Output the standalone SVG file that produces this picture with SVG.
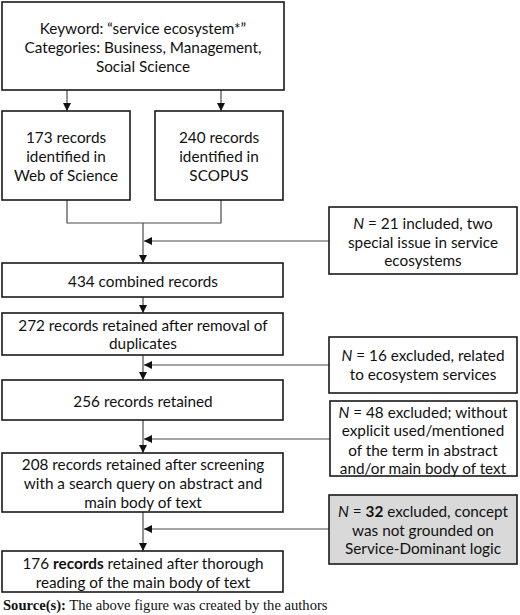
<svg xmlns="http://www.w3.org/2000/svg" width="520" height="615" viewBox="0 0 520 615">
<defs>
<style>
.box{fill:#ffffff;stroke:#1a1a1a;stroke-width:1.6}
.grey{fill:#d9d9d9}
.t{font-family:Lato,"Open Sans","Liberation Sans",sans-serif;font-size:15.3px;fill:#111;text-anchor:middle}
.c{fill:none;stroke:#4a4a4a;stroke-width:1.2}
.src{font-family:"Liberation Serif","Times New Roman",serif;font-size:14.6px;fill:#111}
</style>
<marker id="ah" markerWidth="9" markerHeight="9" refX="8" refY="4" orient="auto" markerUnits="userSpaceOnUse">
<path d="M0,0 L8,4 L0,8 Z" fill="#111"/>
</marker>
</defs>
<rect width="520" height="615" fill="#ffffff"/>

<g id="connectors">
<line class="c" x1="67" y1="90" x2="67" y2="111" marker-end="url(#ah)"/>
<line class="c" x1="221" y1="90" x2="221" y2="111" marker-end="url(#ah)"/>
<polyline class="c" points="67,200 67,223 221,223 221,200"/>
<line class="c" x1="143" y1="223" x2="143" y2="263" marker-end="url(#ah)"/>
<line class="c" x1="329" y1="241" x2="144" y2="241" marker-end="url(#ah)"/>
<line class="c" x1="143" y1="297" x2="143" y2="313" marker-end="url(#ah)"/>
<line class="c" x1="143" y1="355" x2="143" y2="380" marker-end="url(#ah)"/>
<line class="c" x1="329" y1="365" x2="144" y2="365" marker-end="url(#ah)"/>
<line class="c" x1="143" y1="420" x2="143" y2="453" marker-end="url(#ah)"/>
<line class="c" x1="330" y1="439" x2="144" y2="439" marker-end="url(#ah)"/>
<line class="c" x1="143" y1="512" x2="143" y2="551" marker-end="url(#ah)"/>
<line class="c" x1="329" y1="529" x2="144" y2="529" marker-end="url(#ah)"/>
</g>

<g id="keyword">
<rect class="box" x="2" y="2" width="282" height="88"/>
<text class="t" x="143" y="33.5">Keyword: “service ecosystem*”</text>
<text class="t" x="143" y="52.5">Categories: Business, Management,</text>
<text class="t" x="143" y="71.5">Social Science</text>
</g>

<g id="wos">
<rect class="box" x="2" y="111" width="128" height="89"/>
<text class="t" x="66" y="142.5">173 records</text>
<text class="t" x="66" y="161.5">identified in</text>
<text class="t" x="66" y="180.5">Web of Science</text>
</g>

<g id="scopus">
<rect class="box" x="155" y="111" width="128" height="89"/>
<text class="t" x="219" y="142.5">240 records</text>
<text class="t" x="219" y="161.5">identified in</text>
<text class="t" x="219" y="180.5">SCOPUS</text>
</g>

<g id="n21">
<rect class="box" x="329" y="207" width="188" height="67"/>
<text class="t" x="423" y="228.5"><tspan font-style="italic">N</tspan> = 21 included, two</text>
<text class="t" x="423" y="247.5">special issue in service</text>
<text class="t" x="423" y="265.5">ecosystems</text>
</g>

<g id="combined">
<rect class="box" x="2" y="263" width="281" height="34"/>
<text class="t" x="143" y="286.5">434 combined records</text>
</g>

<g id="dedup">
<rect class="box" x="2" y="313" width="281" height="42"/>
<text class="t" x="143" y="330.5">272 records retained after removal of</text>
<text class="t" x="143" y="348.5">duplicates</text>
</g>

<g id="n16">
<rect class="box" x="329" y="337" width="188" height="56"/>
<text class="t" x="423" y="360.5"><tspan font-style="italic">N</tspan> = 16 excluded, related</text>
<text class="t" x="423" y="379.5">to ecosystem services</text>
</g>

<g id="r256">
<rect class="box" x="2" y="380" width="281" height="40"/>
<text class="t" x="143" y="406.5">256 records retained</text>
</g>

<g id="n48">
<rect class="box" x="330" y="401" width="187" height="75"/>
<text class="t" x="423" y="417.5"><tspan font-style="italic">N</tspan> = 48 excluded; without</text>
<text class="t" x="423" y="435.5">explicit used/mentioned</text>
<text class="t" x="423" y="455.5">of the term in abstract</text>
<text class="t" x="423" y="473.5">and/or main body of text</text>
</g>

<g id="r208">
<rect class="box" x="2" y="453" width="281" height="59"/>
<text class="t" x="143" y="469.5">208 records retained after screening</text>
<text class="t" x="143" y="488.5">with a search query on abstract and</text>
<text class="t" x="143" y="507.5">main body of text</text>
</g>

<g id="n32">
<rect class="box grey" x="329" y="495" width="188" height="69"/>
<text class="t" x="423" y="516.5"><tspan font-style="italic">N</tspan> = <tspan font-weight="bold">32</tspan> excluded, concept</text>
<text class="t" x="423" y="535.5">was not grounded on</text>
<text class="t" x="423" y="553.5">Service-Dominant logic</text>
</g>

<g id="r176">
<rect class="box" x="2" y="551" width="281" height="41"/>
<text class="t" x="143" y="568.5">176 <tspan font-weight="bold">records</tspan> retained after thorough</text>
<text class="t" x="143" y="587.5">reading of the main body of text</text>
</g>

<g id="source">
<text class="src" x="3" y="610"><tspan font-weight="bold">Source(s):</tspan> The above figure was created by the authors</text>
</g>
</svg>
